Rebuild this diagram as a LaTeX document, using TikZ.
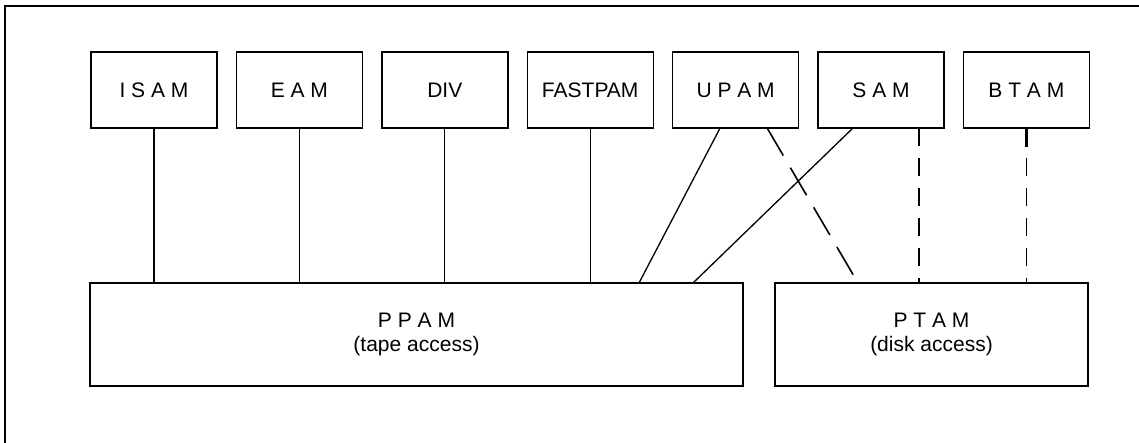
\documentclass[tikz,border=0pt]{standalone}
\usepackage{fontspec}
\setmainfont{Liberation Sans}
\usepackage{tikz}
\usetikzlibrary{%
  positioning,
  calc
}
\tikzset{
  method/.style={draw, line width=1.4pt, minimum width=126pt,
                 minimum height=76pt, inner sep=0pt, outer sep=0pt,
                 font=\fontsize{21}{24}\selectfont},
  access/.style={draw, line width=1.4pt, minimum height=103pt,
                 minimum width=#1, inner sep=0pt, outer sep=0pt,
                 align=center, font=\fontsize{21}{24}\selectfont}
}

\begin{document}
\begin{tikzpicture}[x=1pt, y=1pt,
  link/.style={line width=1.3pt},
  loose link/.style={line width=1.3pt, dash pattern=on 18pt off 12pt},
  long link/.style={line width=1.6pt, dash pattern=on 32pt off 14pt}
]
\useasboundingbox (0,0) rectangle (1139,443);
% the frame
\draw[line width=1.8pt] (5,0) -- (5,437) -- (1139,437);

% the access methods
\node[method] (ISAM) at (154,353) {I S A M};
\node[method, right=19.4pt of ISAM]    (EAM)     {E A M};
\node[method, right=19.4pt of EAM]     (DIV)     {DIV};
\node[method, right=19.4pt of DIV]     (FASTPAM) {FASTPAM};
\node[method, right=19.4pt of FASTPAM] (UPAM)    {U P A M};
\node[method, right=19.4pt of UPAM]    (SAM)     {S A M};
\node[method, right=19.4pt of SAM]     (BTAM)    {B T A M};

\node[access=653pt] (PPAM) at (416.5,108.5) {P P A M\\(tape access)};
\node[access=313pt] (PTAM) at (931.5,108.5) {P T A M\\(disk access)};

% the links
\foreach \m in {ISAM,EAM,DIV,FASTPAM}
  \draw[link] (\m.south) -- (\m.south |- PPAM.north);
\draw[link] ($(UPAM.south)+(-15.5,0)$) -- ($(PPAM.north east)+(-104,0)$);
\draw[link] ($(SAM.south)+(-28,0)$)    -- ($(PPAM.north east)+(-50,0)$);
\draw[long link] ($(UPAM.south)+(31.5,0)$) -- ($(PTAM.north west)+(83,0)$);
\draw[loose link] ($(SAM.south)+(38,0)$) coordinate (s) -- (s |- PTAM.north);
\draw[loose link] (BTAM.south) -- (BTAM.south |- PTAM.north);
\draw[line width=3pt] (BTAM.south) -- ++(0,-19);
\end{tikzpicture}
\end{document}
